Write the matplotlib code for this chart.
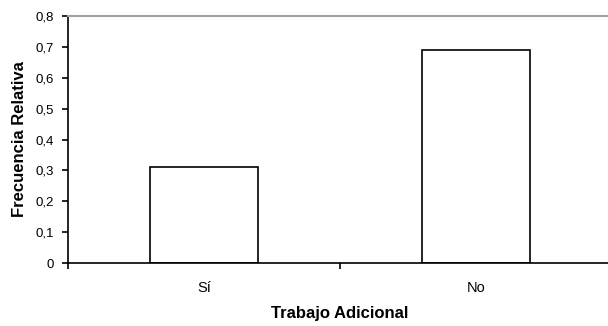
import matplotlib
matplotlib.use("Agg")
import matplotlib.pyplot as plt

categorias = ["Sí", "No"]
frecuencias = [0.31, 0.69]
yticks = [0, 0.1, 0.2, 0.3, 0.4, 0.5, 0.6, 0.7, 0.8]
ytick_labels = ["0", "0,1", "0,2", "0,3", "0,4", "0,5", "0,6", "0,7", "0,8"]

plt.rcParams['font.family'] = ['Liberation Sans', 'DejaVu Sans']

fig = plt.figure(figsize=(6.08, 3.26), dpi=100)
ax = fig.add_axes([68 / 608, 63 / 326, 544 / 608, 247 / 326])

x = list(range(len(categorias)))
ax.bar(x, frecuencias, width=0.4, color='white', edgecolor='black', linewidth=1.2)

ax.set_xlim(-0.5, 1.5)
ax.set_ylim(0, 0.8)
ax.set_yticks(yticks)
ax.set_yticklabels(ytick_labels, fontsize=9.5)

# categorias con etiquetas, marcas en los limites entre categorias
ax.set_xticks(x)
ax.set_xticklabels(categorias, fontsize=10.5)
ax.tick_params(axis='x', which='major', length=0, pad=13)
ax.set_xticks([-0.5, 0.5, 1.5], minor=True)
ax.tick_params(axis='x', which='minor', length=4, width=1.2, direction='out')
ax.tick_params(axis='y', length=4, width=1.2, direction='out', pad=6)

ax.spines['right'].set_visible(False)
ax.spines['top'].set_color('#a0a0a0')
ax.spines['top'].set_linewidth(1.5)
ax.spines['left'].set_linewidth(1.2)
ax.spines['bottom'].set_linewidth(1.2)

ax.set_ylabel("Frecuencia Relativa", fontsize=12, fontweight='bold', labelpad=6)
ax.set_xlabel("Trabajo Adicional", fontsize=12, fontweight='bold', labelpad=8)

fig.savefig("out.png", dpi=100)
